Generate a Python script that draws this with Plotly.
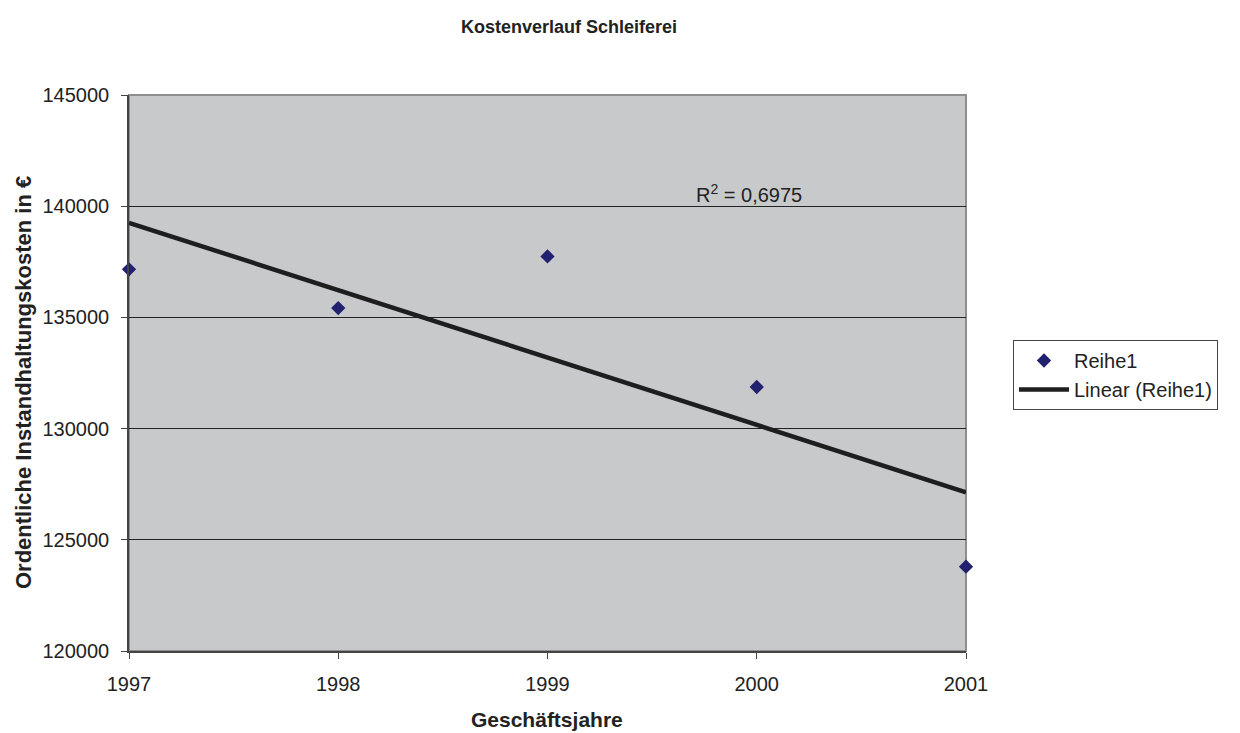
import numpy as np
import plotly.graph_objects as go

years = [1997, 1998, 1999, 2000, 2001]
kosten = [137160, 135420, 137740, 131870, 123790]
y_ticks = [120000, 125000, 130000, 135000, 140000, 145000]
r2_label = "R<sup>2</sup> = 0,6975"

coef = np.polyfit(years, kosten, 1)
trend = np.polyval(coef, years)

FONT = "Liberation Sans, Arial, sans-serif"
FS = 20
W, H = 1240, 733
L, R, T, B = 129, 274, 95, 82
PW, PH = W - L - R, H - T - B


def px_x(px):
    return (px - L) / PW


def px_y(py):
    return (H - B - py) / PH


fig = go.Figure()
fig.add_trace(go.Scatter(
    x=years, y=kosten, mode="markers", name="Reihe1",
    marker=dict(symbol="diamond", size=11, color="#21216F"),
    cliponaxis=False,
))
fig.add_trace(go.Scatter(
    x=[years[0], years[-1]], y=[trend[0], trend[-1]], mode="lines",
    name="Linear (Reihe1)", line=dict(color="#1E1E1E", width=4.5),
))

fig.add_annotation(
    x=1999.70, y=140000, xref="x", yref="y", text=r2_label, showarrow=False,
    xanchor="left", yanchor="bottom", yshift=-2,
    font=dict(family=FONT, size=FS, color="#222"),
)
fig.add_annotation(
    x=px_x(23), y=px_y(383), xref="paper", yref="paper", showarrow=False,
    text="<b>Ordentliche Instandhaltungskosten in €</b>", textangle=-90,
    xanchor="center", yanchor="middle",
    font=dict(family=FONT, size=22, color="#222"),
)
fig.add_annotation(
    x=px_x(547), y=px_y(720), xref="paper", yref="paper", showarrow=False,
    text="<b>Geschäftsjahre</b>", xanchor="center", yanchor="middle",
    font=dict(family=FONT, size=21, color="#222"),
)

fig.update_layout(
    width=W, height=H,
    margin=dict(l=L, r=R, t=T, b=B),
    paper_bgcolor="white", plot_bgcolor="#C8C9CB",
    title=dict(text="<b>Kostenverlauf Schleiferei</b>", x=(460 + 678) / 2 / W,
               xanchor="center", y=1 - 27 / H, yanchor="middle",
               font=dict(family=FONT, size=18, color="#222")),
    font=dict(family=FONT, size=FS, color="#222"),
    showlegend=True,
    legend=dict(x=px_x(1013), xanchor="left", y=px_y(340),
                yanchor="top", bordercolor="#444", borderwidth=1, bgcolor="white",
                font=dict(family=FONT, size=FS, color="#222"), itemwidth=50,
                tracegroupgap=0),
    shapes=[dict(type="rect", xref="paper", yref="paper", x0=0, x1=1, y0=0, y1=1,
                 line=dict(color="#8E8E8E", width=2), fillcolor="rgba(0,0,0,0)",
                 layer="below")],
)

fig.update_xaxes(
    range=[1997, 2001], tickmode="array", tickvals=years, ticktext=[str(v) for v in years],
    showgrid=False, zeroline=False, showline=True, linecolor="#444", linewidth=1.5,
    ticks="outside", ticklen=6, tickcolor="#444", ticklabelstandoff=8,
    tickfont=dict(family=FONT, size=FS, color="#222"), automargin=False,
)
fig.update_yaxes(
    range=[120000, 145000], tickmode="array", tickvals=y_ticks,
    ticktext=[str(v) for v in y_ticks],
    showgrid=True, gridcolor="#222", gridwidth=1, zeroline=False,
    showline=True, linecolor="#444", linewidth=1.5,
    ticks="outside", ticklen=6, tickcolor="#444", ticklabelstandoff=8,
    tickfont=dict(family=FONT, size=FS, color="#222"), automargin=False,
)

fig.write_html("out.html")
